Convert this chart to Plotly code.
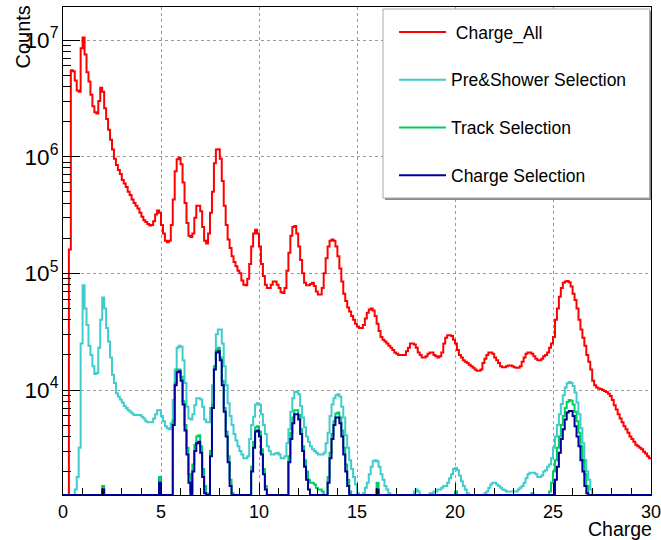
import numpy as np
import plotly.graph_objects as go

# ---------------- data (300 bins of width 0.1 on 0..30) ----------------
bin_width = 0.1
n_bins = 300

charge_all = [
    0, 0, 0, 1.6e5, 5.5e6, 5.4e6, 4.5e6, 3.7e6, 3.6e6, 8.5e6,
    1.05e7, 7.5e6, 5.3e6, 4.4e6, 3.4e6, 2.7e6, 2.4e6, 2.35e6, 3.0e6, 3.9e6,
    3.6e6, 2.6e6, 2.1e6, 1.7e6, 1.4e6, 1.15e6, 9.6e5, 8.5e5, 7.7e5, 7.1e5,
    6.3e5, 5.9e5, 5.5e5, 5.0e5, 4.7e5, 4.3e5, 4.0e5, 3.8e5, 3.6e5, 3.3e5,
    3.05e5, 2.85e5, 2.75e5, 2.65e5, 2.57e5, 2.6e5, 2.8e5, 3.2e5, 3.45e5, 3.3e5,
    2.6e5, 2.2e5, 1.9e5, 1.85e5, 1.9e5, 2.6e5, 4.3e5, 7.5e5, 9.5e5, 9.8e5,
    8.6e5, 6.0e5, 4.0e5, 2.7e5, 2.1e5, 2.05e5, 2.2e5, 3.0e5, 3.8e5, 3.8e5,
    3.4e5, 2.5e5, 1.9e5, 1.8e5, 2.2e5, 3.3e5, 5.0e5, 8.8e5, 1.15e6, 1.16e6,
    9.6e5, 6.2e5, 3.8e5, 2.6e5, 1.95e5, 1.65e5, 1.4e5, 1.25e5, 1.15e5, 1.05e5,
    1.0e5, 8.7e4, 8.0e4, 7.9e4, 9.0e4, 1.2e5, 1.7e5, 2.2e5, 2.36e5, 2.2e5,
    1.7e5, 1.2e5, 9.5e4, 8.0e4, 7.5e4, 7.5e4, 8.0e4, 8.5e4, 8.5e4, 8.0e4,
    7.5e4, 6.9e4, 6.8e4, 7.5e4, 1.05e5, 1.5e5, 2.1e5, 2.5e5, 2.55e5, 2.2e5,
    1.7e5, 1.3e5, 1.0e5, 8.3e4, 7.9e4, 7.9e4, 8.1e4, 8.3e4, 7.8e4, 7.0e4,
    6.6e4, 6.6e4, 7.5e4, 1.0e5, 1.35e5, 1.7e5, 1.9e5, 1.95e5, 1.9e5, 1.7e5,
    1.4e5, 1.1e5, 8.5e4, 6.7e4, 5.8e4, 5.1e4, 4.7e4, 4.3e4, 4.0e4, 3.7e4,
    3.5e4, 3.4e4, 3.4e4, 3.6e4, 4.1e4, 4.6e4, 4.9e4, 5.0e4, 4.8e4, 4.3e4,
    3.7e4, 3.2e4, 2.85e4, 2.7e4, 2.6e4, 2.5e4, 2.4e4, 2.3e4, 2.2e4, 2.1e4,
    2.05e4, 2.0e4, 2.0e4, 2.0e4, 2.0e4, 2.15e4, 2.3e4, 2.5e4, 2.5e4, 2.45e4,
    2.3e4, 2.1e4, 2.0e4, 1.9e4, 1.9e4, 1.95e4, 2.05e4, 2.1e4, 2.1e4, 2.0e4,
    1.95e4, 1.9e4, 1.95e4, 2.1e4, 2.5e4, 2.8e4, 2.95e4, 2.95e4, 2.9e4, 2.7e4,
    2.5e4, 2.2e4, 2.0e4, 1.9e4, 1.8e4, 1.75e4, 1.7e4, 1.65e4, 1.6e4, 1.55e4,
    1.5e4, 1.46e4, 1.46e4, 1.5e4, 1.7e4, 1.85e4, 2.0e4, 2.1e4, 2.1e4, 2.05e4,
    1.9e4, 1.8e4, 1.7e4, 1.6e4, 1.57e4, 1.57e4, 1.6e4, 1.62e4, 1.62e4, 1.6e4,
    1.57e4, 1.55e4, 1.55e4, 1.6e4, 1.75e4, 1.9e4, 2.05e4, 2.1e4, 2.1e4, 2.05e4,
    1.95e4, 1.85e4, 1.8e4, 1.8e4, 1.85e4, 1.95e4, 2.0e4, 2.1e4, 2.3e4, 2.5e4,
    2.85e4, 4.0e4, 5.0e4, 6.3e4, 7.5e4, 8.3e4, 8.5e4, 8.6e4, 8.4e4, 7.7e4,
    6.7e4, 5.9e4, 5.0e4, 4.0e4, 3.3e4, 2.8e4, 2.4e4, 2.0e4, 1.75e4, 1.5e4,
    1.2e4, 1.1e4, 1.05e4, 1.03e4, 1.02e4, 1.0e4, 9.8e3, 9.6e3, 9.3e3, 8.9e3,
    8.2e3, 7.4e3, 6.8e3, 6.2e3, 5.7e3, 5.3e3, 4.9e3, 4.6e3, 4.3e3, 4.0e3,
    3.8e3, 3.6e3, 3.4e3, 3.3e3, 3.2e3, 3.1e3, 2.95e3, 2.85e3, 2.7e3, 2.6e3,
]

pre_shower = [
    0, 0, 0, 0, 0, 0, 1.4e3, 1.8e3, 3.2e3, 2.5e4,
    7.9e4, 5.0e4, 3.6e4, 2.4e4, 2.0e4, 1.6e4, 1.37e4, 1.4e4, 2.3e4, 4.0e4,
    6.2e4, 5.0e4, 3.4e4, 2.6e4, 1.9e4, 1.35e4, 1.15e4, 9.4e3, 8.8e3, 8.3e3,
    7.8e3, 7.3e3, 7.0e3, 6.7e3, 6.5e3, 6.3e3, 6.1e3, 6.1e3, 6.1e3, 6.1e3,
    5.9e3, 5.7e3, 5.4e3, 5.3e3, 5.3e3, 5.3e3, 5.7e3, 6.2e3, 6.7e3, 6.7e3,
    6.0e3, 5.4e3, 4.9e3, 4.7e3, 4.6e3, 5.2e3, 8.2e3, 1.5e4, 2.3e4, 2.4e4,
    2.35e4, 1.8e4, 1.15e4, 7.2e3, 5.7e3, 5.6e3, 6.2e3, 7.4e3, 8.5e3, 8.5e3,
    8.3e3, 7.2e3, 5.6e3, 5.3e3, 5.3e3, 7.0e3, 1.1e4, 1.6e4, 3.0e4, 3.3e4,
    3.3e4, 2.5e4, 1.6e4, 1.1e4, 7.7e3, 6.0e3, 5.0e3, 4.2e3, 3.7e3, 3.3e3,
    3.0e3, 2.8e3, 2.6e3, 2.6e3, 2.7e3, 3.8e3, 5.0e3, 5.9e3, 7.5e3, 7.7e3,
    7.5e3, 6.2e3, 5.0e3, 4.2e3, 3.3e3, 3.0e3, 2.8e3, 2.8e3, 2.85e3, 2.9e3,
    2.8e3, 2.6e3, 2.6e3, 2.7e3, 3.5e3, 4.6e3, 6.5e3, 8.5e3, 9.6e3, 9.7e3,
    9.2e3, 7.3e3, 5.8e3, 4.8e3, 4.0e3, 3.6e3, 3.3e3, 3.1e3, 3.0e3, 2.9e3,
    2.8e3, 2.8e3, 2.8e3, 2.9e3, 3.5e3, 4.3e3, 6.0e3, 7.5e3, 8.5e3, 9.0e3,
    9.2e3, 8.8e3, 7.2e3, 5.8e3, 4.1e3, 3.2e3, 2.5e3, 2.1e3, 1.8e3, 1.55e3,
    1.3e3, 0, 0, 1.3e3, 1.45e3, 1.6e3, 1.9e3, 2.2e3, 2.45e3, 2.5e3,
    2.45e3, 2.2e3, 1.9e3, 1.7e3, 1.5e3, 1.4e3, 1.3e3, 0, 0, 0,
    0, 0, 0, 0, 0, 0, 0, 0, 0, 1.35e3,
    1.4e3, 1.35e3, 0, 0, 0, 0, 0, 1.3e3, 1.3e3, 1.35e3,
    1.35e3, 1.4e3, 1.4e3, 1.45e3, 1.5e3, 1.5e3, 1.6e3, 1.75e3, 1.9e3, 2.1e3,
    2.15e3, 2.05e3, 1.85e3, 1.65e3, 1.5e3, 1.4e3, 1.3e3, 0, 0, 0,
    0, 0, 0, 0, 0, 1.3e3, 1.35e3, 1.45e3, 1.55e3, 1.6e3,
    1.6e3, 1.55e3, 1.5e3, 1.45e3, 1.4e3, 1.38e3, 1.35e3, 1.35e3, 1.35e3, 1.35e3,
    1.35e3, 1.35e3, 1.4e3, 1.45e3, 1.5e3, 1.6e3, 1.75e3, 1.9e3, 1.95e3, 1.95e3,
    1.95e3, 1.9e3, 1.8e3, 1.8e3, 1.85e3, 2.0e3, 2.05e3, 2.2e3, 2.3e3, 2.6e3,
    3.2e3, 4.0e3, 5.0e3, 6.2e3, 7.6e3, 9.0e3, 1.05e4, 1.14e4, 1.17e4, 1.15e4,
    1.08e4, 9.5e3, 7.8e3, 6.2e3, 4.7e3, 3.5e3, 2.5e3, 2.0e3, 1.7e3, 1.4e3,
    0, 0, 0, 0, 0, 0, 0, 0, 0, 0,
    0, 0, 0, 0, 0, 0, 0, 0, 0, 0,
    0, 0, 0, 0, 0, 0, 0, 0, 0, 0,
]

track_sel = [
    0, 0, 0, 0, 0, 0, 0, 0, 0, 0,
    0, 0, 0, 0, 0, 0, 0, 0, 0, 0,
    1.5e3, 0, 0, 0, 0, 0, 0, 0, 0, 0,
    0, 0, 0, 0, 0, 0, 0, 0, 0, 0,
    0, 0, 0, 0, 0, 0, 0, 0, 0, 1.8e3,
    0, 0, 0, 0, 0, 0, 5.5e3, 1.15e4, 1.5e4, 1.5e4,
    1.3e4, 8.0e3, 5.0e3, 3.2e3, 1.9e3, 1.35e3, 2.3e3, 3.4e3, 4.0e3, 4.1e3,
    3.3e3, 2.1e3, 1.5e3, 1.3e3, 0, 3.0e3, 7.5e3, 1.6e4, 2.2e4, 2.3e4,
    1.9e4, 1.2e4, 7.0e3, 4.4e3, 2.7e3, 1.7e3, 1.3e3, 0, 0, 0,
    0, 0, 0, 0, 0, 0, 2.2e3, 3.6e3, 4.8e3, 4.9e3,
    4.4e3, 3.1e3, 2.1e3, 1.5e3, 0, 0, 0, 0, 0, 0,
    0, 0, 0, 0, 0, 2.7e3, 4.3e3, 5.8e3, 6.7e3, 6.7e3,
    6.1e3, 4.6e3, 3.3e3, 2.5e3, 2.0e3, 1.7e3, 1.6e3, 1.6e3, 1.55e3, 1.45e3,
    1.4e3, 1.4e3, 1.35e3, 0, 0, 1.8e3, 2.9e3, 4.2e3, 5.4e3, 6.3e3,
    6.4e3, 5.8e3, 4.5e3, 3.2e3, 2.3e3, 1.7e3, 1.35e3, 0, 0, 0,
    0, 0, 0, 0, 0, 0, 0, 0, 0, 0,
    1.6e3, 0, 0, 0, 0, 0, 0, 0, 0, 0,
    0, 0, 0, 0, 0, 0, 0, 0, 0, 0,
    0, 0, 0, 0, 0, 0, 0, 0, 0, 0,
    0, 0, 0, 0, 0, 0, 0, 0, 0, 0,
    1.35e3, 0, 0, 0, 0, 0, 0, 0, 0, 0,
    0, 0, 0, 0, 0, 0, 0, 0, 0, 0,
    0, 0, 0, 0, 0, 0, 0, 0, 0, 0,
    0, 0, 0, 0, 0, 0, 0, 0, 0, 1.3e3,
    0, 0, 0, 0, 0, 0, 0, 0, 1.35e3, 1.6e3,
    2.0e3, 2.5e3, 3.2e3, 4.0e3, 5.0e3, 6.0e3, 7.0e3, 7.9e3, 8.2e3, 8.1e3,
    7.5e3, 6.5e3, 5.4e3, 4.3e3, 3.3e3, 2.5e3, 1.9e3, 1.5e3, 0, 0,
    0, 0, 0, 0, 0, 0, 0, 0, 0, 0,
    0, 0, 0, 0, 0, 0, 0, 0, 0, 0,
    0, 0, 0, 0, 0, 0, 0, 0, 0, 0,
]

charge_sel = [
    0, 0, 0, 0, 0, 0, 0, 0, 0, 0,
    0, 0, 0, 0, 0, 0, 0, 0, 0, 0,
    1.4e3, 0, 0, 0, 0, 0, 0, 0, 0, 0,
    0, 0, 0, 0, 0, 0, 0, 0, 0, 0,
    0, 0, 0, 0, 0, 0, 0, 0, 0, 1.6e3,
    0, 0, 0, 0, 0, 0, 5.0e3, 1.1e4, 1.42e4, 1.45e4,
    1.2e4, 7.5e3, 4.5e3, 2.8e3, 1.6e3, 0, 2.0e3, 3.0e3, 3.5e3, 3.6e3,
    2.9e3, 1.8e3, 1.3e3, 0, 0, 2.7e3, 7.0e3, 1.5e4, 2.1e4, 2.15e4,
    1.8e4, 1.1e4, 6.5e3, 4.0e3, 2.4e3, 1.5e3, 0, 0, 0, 0,
    0, 0, 0, 0, 0, 0, 2.0e3, 3.2e3, 4.4e3, 4.5e3,
    4.0e3, 2.8e3, 1.9e3, 1.4e3, 0, 0, 0, 0, 0, 0,
    0, 0, 0, 0, 0, 2.4e3, 3.8e3, 5.2e3, 6.2e3, 6.2e3,
    5.6e3, 4.2e3, 3.0e3, 2.2e3, 1.7e3, 1.4e3, 0, 0, 0, 0,
    0, 0, 0, 0, 0, 1.6e3, 2.6e3, 3.8e3, 5.0e3, 5.8e3,
    5.8e3, 5.2e3, 4.0e3, 2.8e3, 2.0e3, 1.5e3, 0, 0, 0, 0,
    0, 0, 0, 0, 0, 0, 0, 0, 0, 0,
    1.4e3, 0, 0, 0, 0, 0, 0, 0, 0, 0,
    0, 0, 0, 0, 0, 0, 0, 0, 0, 0,
    0, 0, 0, 0, 0, 0, 0, 0, 0, 0,
    0, 0, 0, 0, 0, 0, 0, 0, 0, 0,
    0, 0, 0, 0, 0, 0, 0, 0, 0, 0,
    0, 0, 0, 0, 0, 0, 0, 0, 0, 0,
    0, 0, 0, 0, 0, 0, 0, 0, 0, 0,
    0, 0, 0, 0, 0, 0, 0, 0, 0, 0,
    0, 0, 0, 0, 0, 0, 0, 0, 0, 0,
    0, 1.7e3, 2.2e3, 2.9e3, 3.8e3, 4.6e3, 5.6e3, 6.4e3, 6.6e3, 6.6e3,
    6.0e3, 4.9e3, 4.0e3, 3.3e3, 2.5e3, 2.0e3, 1.5e3, 1.3e3, 0, 0,
    0, 0, 0, 0, 0, 0, 0, 0, 0, 0,
    0, 0, 0, 0, 0, 0, 0, 0, 0, 0,
    0, 0, 0, 0, 0, 0, 0, 0, 0, 0,
]

series_names = [" Charge_All", "Pre&Shower Selection", "Track Selection", "Charge Selection"]
series_values = [charge_all, pre_shower, track_sel, charge_sel]
series_colors = ["#ff0000", "#3ecccc", "#00cc66", "#00009a"]

x_min, x_max = 0, 30
y_log_min, y_log_max = 3.1, 7.283
y_floor = 10 ** y_log_min   # empty bins drawn on the bottom edge, as ROOT does

edges = np.arange(n_bins + 1) * bin_width

fig = go.Figure()
for i, (name, vals, col) in enumerate(zip(series_names, series_values, series_colors)):
    yv = [v if v > 0 else y_floor for v in vals]
    fig.add_trace(go.Scatter(
        x=list(edges), y=yv + [yv[-1]],
        mode="lines", line=dict(color=col, width=2, shape="hv"),
        name=name, legendgroup=f"g{i}",
    ))

font_family = "Liberation Sans, Arial, sans-serif"

# plot frame in window pixels
PL, PR, PT, PB = 63, 651, 7, 495
W, H = 661, 540


def px_x(p):
    return (p - PL) / float(PR - PL)


def px_y(p):
    return (PB - p) / float(PB - PT)


fig.update_layout(
    width=W, height=H,
    margin=dict(l=PL, r=W - PR, t=PT, b=H - PB, autoexpand=False),
    paper_bgcolor="white", plot_bgcolor="white",
    font=dict(family=font_family, color="black"),
    showlegend=True,
    legend=dict(
        x=px_x(394), y=px_y(14), xanchor="left", yanchor="top",
        bgcolor="rgba(0,0,0,0)", borderwidth=0,
        font=dict(size=17.5, family=font_family, color="black"),
        tracegroupgap=22, itemwidth=47,
    ),
    xaxis=dict(
        range=[x_min, x_max], dtick=5, tick0=0,
        ticks="inside", ticklen=12, tickcolor="black", tickwidth=1,
        minor=dict(dtick=1, ticks="inside", ticklen=7, tickcolor="black", showgrid=False),
        showgrid=True, gridcolor="#9a9a9a", griddash="dot", gridwidth=1,
        showline=True, linecolor="black", linewidth=1, mirror=True,
        zeroline=False, ticklabeloverflow="allow",
        tickfont=dict(size=18, family=font_family, color="black"),
    ),
    yaxis=dict(
        type="log", range=[y_log_min, y_log_max], dtick=1,
        exponentformat="power",
        ticks="inside", ticklen=17, tickcolor="black", tickwidth=1,
        minor=dict(dtick="D1", ticks="inside", ticklen=8, tickcolor="black", showgrid=False),
        showgrid=True, gridcolor="#9a9a9a", griddash="dot", gridwidth=1,
        showline=True, linecolor="black", linewidth=1, mirror=True,
        zeroline=False,
        tickfont=dict(size=18, family=font_family, color="black"),
    ),
)

# legend frame (ROOT style box with shadow)
fig.add_shape(type="rect", xref="paper", yref="paper",
              x0=px_x(385), x1=px_x(651), y0=px_y(200), y1=px_y(11),
              line=dict(width=0), fillcolor="#8a8a8a", layer="above")
fig.add_shape(type="rect", xref="paper", yref="paper",
              x0=px_x(383), x1=px_x(649.5), y0=px_y(198), y1=px_y(9),
              line=dict(width=1, color="#a8a8a8"), fillcolor="white", layer="above")

fig.add_annotation(text="Counts", xref="paper", yref="paper",
                   x=px_x(22), y=px_y(5), xanchor="center", yanchor="top",
                   textangle=-90, showarrow=False, borderpad=0,
                   font=dict(size=20, family=font_family, color="black"))
fig.add_annotation(text="Charge", xref="paper", yref="paper",
                   x=px_x(653), y=px_y(541), xanchor="right", yanchor="bottom",
                   showarrow=False, borderpad=0,
                   font=dict(size=19.5, family=font_family, color="black"))

fig.write_html(
    "out.html",
    config={"displayModeBar": False},
    post_script="document.body.style.margin='0';document.body.style.padding='0';",
)
